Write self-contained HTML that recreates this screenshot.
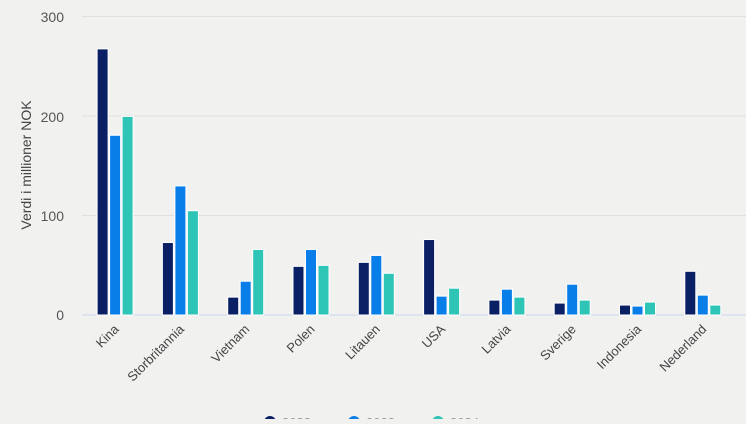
<!DOCTYPE html><html><head><style>body{margin:0;background:#f1f2f0}</style></head><body>
<svg width="746" height="419" xmlns="http://www.w3.org/2000/svg" font-family="Liberation Sans, sans-serif">
<rect width="746" height="419" fill="#f1f2f0"/>
<g stroke="#e0e1df" stroke-width="1">
<line x1="82" x2="746" y1="16.5" y2="16.5"/><line x1="82" x2="746" y1="116" y2="116"/><line x1="82" x2="746" y1="215.5" y2="215.5"/>
</g>
<line x1="82" x2="746" y1="315" y2="315" stroke="#ccd6eb"/>
<g font-size="14" fill="#555" text-anchor="end">
<text x="64" y="22">300</text><text x="64" y="122">200</text><text x="64" y="221">100</text><text x="64" y="320">0</text>
</g>
<text transform="translate(31,165) rotate(-90)" font-size="14" fill="#444" text-anchor="middle">Verdi i millioner NOK</text>
<g id="bars" stroke="#fff" stroke-width="1"></g>
<g id="labels" font-size="13" fill="#444" text-anchor="end"></g>
<circle cx="270" cy="422" r="6" fill="#0b1f65"/><circle cx="354" cy="422" r="6" fill="#0a7ee8"/><circle cx="438" cy="422" r="6" fill="#2ec4b6"/>
<g font-size="13" fill="#999"><text x="282" y="427">2022</text><text x="366" y="427">2023</text><text x="450" y="427">2024</text></g>
<script>
var d=[["Kina",268,181,200],["Storbritannia",73,130,105],["Vietnam",18,34,66],["Polen",49,66,50],["Litauen",53,60,42],["USA",76,19,27],["Latvia",15,26,18],["Sverige",12,31,15],["Indonesia",10,9,13],["Nederland",44,20,10]];
var c=["#0b1f65","#0a7ee8","#2ec4b6"],b=document.getElementById("bars"),l=document.getElementById("labels"),ns="http://www.w3.org/2000/svg";
d.forEach(function(r,i){var cx=114.6+i*65.3;for(var k=0;k<3;k++){var h=r[k+1]*0.993,e=document.createElementNS(ns,"rect");e.setAttribute("x",cx-17.5+k*12.5);e.setAttribute("y",315-h);e.setAttribute("width",11);e.setAttribute("height",h);e.setAttribute("fill",c[k]);b.appendChild(e);}
var t=document.createElementNS(ns,"text");t.setAttribute("transform","translate("+(cx+5)+",330) rotate(-45)");t.textContent=r[0];l.appendChild(t);});
</script>
</svg></body></html>
